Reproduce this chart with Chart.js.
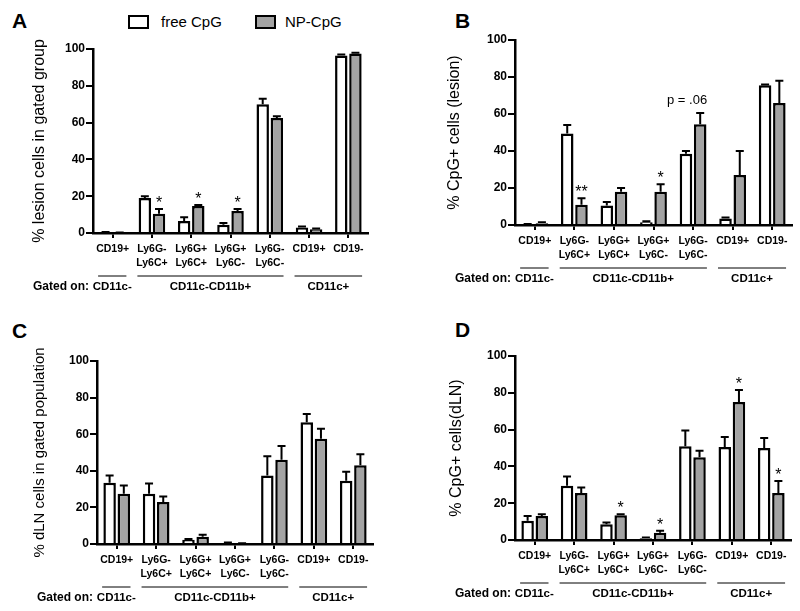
<!DOCTYPE html>
<html>
<head>
<meta charset="utf-8">
<script src="https://cdn.jsdelivr.net/npm/chart.js@4.4.1/dist/chart.umd.min.js"></script>
<style>
body { margin: 0; background: #fff; width: 800px; height: 611px; position: relative; overflow: hidden; font-family: "Liberation Sans", Arial, sans-serif; }
canvas { position: absolute; }
.letter { position: absolute; font: bold 21px/21px "Liberation Sans", Arial, sans-serif; color: #000; }
.legend { position: absolute; top: 14px; font: 15px/16px "Liberation Sans", Arial, sans-serif; color: #000; }
.legend .box { position: absolute; top: 1px; width: 17px; height: 10px; border: 2.5px solid #000; }
.legend span.txt { position: absolute; top: 0; white-space: nowrap; }
</style>
</head>
<body>
<div class="letter" style="left:12px;top:10px">A</div>
<div class="letter" style="left:455px;top:10px">B</div>
<div class="letter" style="left:12px;top:320px">C</div>
<div class="letter" style="left:455px;top:319px">D</div>

<div class="legend" style="left:128px"><div class="box" style="left:0;background:#fff"></div><span class="txt" style="left:33px">free CpG</span></div>
<div class="legend" style="left:255px"><div class="box" style="left:0;background:#a3a3a3"></div><span class="txt" style="left:30px">NP-CpG</span></div>

<canvas id="chartA" width="400" height="305" style="left:0;top:0"></canvas>
<canvas id="chartB" width="400" height="305" style="left:400px;top:0"></canvas>
<canvas id="chartC" width="400" height="306" style="left:0;top:305px"></canvas>
<canvas id="chartD" width="400" height="306" style="left:400px;top:305px"></canvas>

<script>
// categories and gating groups (same on all four panels)
const categories = ['CD19+', ['Ly6G-', 'Ly6C+'], ['Ly6G+', 'Ly6C+'], ['Ly6G+', 'Ly6C-'], ['Ly6G-', 'Ly6C-'], 'CD19+', 'CD19-'];
const gateLabels = ['CD11c-', 'CD11c-CD11b+', 'CD11c+'];
const gateFrom = [0, 1, 5];
const gateTo = [0, 4, 6];
const yTicks = [0, 20, 40, 60, 80, 100];
const seriesNames = ['free CpG', 'NP-CpG'];

// A - % lesion cells in gated group
const freeA = [0.3, 19, 6.5, 4.5, 70, 3, 96.5];
const freeErrA = [0.2, 1, 2, 1, 3, 0.5, 0.5];
const npA = [0.2, 10.5, 14.7, 12, 62.5, 2, 97.5];
const npErrA = [0.1, 2.5, 0.5, 1, 1, 0.5, 0.5];
const npMarksA = ['', '*', '*', '*', '', '', ''];

// B - % CpG+ cells (lesion)
const freeB = [0.3, 49.5, 10.5, 1.5, 38.5, 3.5, 75.5];
const freeErrB = [0.2, 4.5, 2, 0.5, 1.5, 0.5, 0.5];
const npB = [1, 11, 18, 18, 54.5, 27, 66];
const npErrB = [0.5, 3.5, 2, 4, 6, 13, 12];
const npMarksB = ['', '**', '', '*', 'p = .06', '', ''];

// C - % dLN cells in gated population
const freeC = [33.5, 27.5, 2.3, 0.6, 37.5, 66.5, 34.5];
const freeErrC = [4, 5.5, 0.5, 0.2, 10.5, 4.5, 5];
const npC = [27.5, 23, 4, 0.3, 46, 57.5, 43];
const npErrC = [4.5, 3, 1, 0.1, 7.5, 5.5, 6];
const npMarksC = ['', '', '', '', '', '', ''];

// D - % CpG+ cells(dLN)
const freeD = [10.5, 29.5, 8.5, 1, 51, 50.5, 50];
const freeErrD = [2.5, 5, 1, 0.3, 8.5, 5.5, 5.5];
const npD = [13, 25.5, 13.5, 4, 45, 75, 25.5];
const npErrD = [1, 3, 0.5, 1, 3.5, 6.5, 6.5];
const npMarksD = ['', '', '*', '*', '', '*', '*'];

const FONT = '"Liberation Sans", Arial, sans-serif';

// error bars, significance marks and the "Gated on" row
const extras = {
    id: 'extras',
    afterDatasetsDraw(chart) {
        const ctx = chart.ctx;
        const y = chart.scales.y;
        const x = chart.scales.x;
        ctx.save();
        ctx.strokeStyle = '#000';
        ctx.fillStyle = '#000';
        ctx.lineWidth = 2;
        chart.data.datasets.forEach((ds, di) => {
            const meta = chart.getDatasetMeta(di);
            meta.data.forEach((bar, i) => {
                const top = y.getPixelForValue(ds.data[i] + ds.errors[i]);
                const cap = bar.width * 0.32;
                ctx.beginPath();
                ctx.moveTo(bar.x, bar.y);
                ctx.lineTo(bar.x, top);
                ctx.moveTo(bar.x - cap, top);
                ctx.lineTo(bar.x + cap, top);
                ctx.stroke();
                const mark = ds.marks ? ds.marks[i] : '';
                if (mark) {
                    ctx.textAlign = 'center';
                    ctx.textBaseline = 'alphabetic';
                    if (mark.length > 2) {
                        ctx.font = '13px ' + FONT;
                        ctx.fillText(mark, x.getPixelForValue(i) - 6, top - 9);
                    } else {
                        ctx.font = '16px ' + FONT;
                        ctx.fillText(mark, bar.x, top - 1);
                    }
                }
            });
        });
        ctx.restore();
    },
    afterDraw(chart) {
        const ctx = chart.ctx;
        const x = chart.scales.x;
        const area = chart.chartArea;
        const catW = (area.right - area.left) / categories.length;
        const lineY = area.bottom + 43;
        const textY = area.bottom + 54;
        ctx.save();
        ctx.strokeStyle = '#000';
        ctx.fillStyle = '#000';
        ctx.lineWidth = 1;
        ctx.font = 'bold 12px ' + FONT;
        ctx.textBaseline = 'middle';
        ctx.textAlign = 'right';
        ctx.fillText('Gated on:', area.left - 4, textY);
        ctx.font = 'bold 11.5px ' + FONT;
        ctx.textAlign = 'center';
        gateLabels.forEach((g, k) => {
            const x0 = x.getPixelForValue(gateFrom[k]) - catW * 0.37;
            const x1 = x.getPixelForValue(gateTo[k]) + catW * 0.35;
            ctx.beginPath();
            ctx.moveTo(x0, lineY);
            ctx.lineTo(x1, lineY);
            ctx.stroke();
            ctx.fillText(g, (x0 + x1) / 2, textY);
        });
        ctx.restore();
    }
};

function makeChart(cfg) {
    const canvas = document.getElementById(cfg.id);
    const h = canvas.height;
    const w = canvas.width;
    return new Chart(canvas.getContext('2d'), {
        type: 'bar',
        data: {
            labels: categories,
            datasets: [
                { label: seriesNames[0], data: cfg.free, errors: cfg.freeErr, marks: null,
                  backgroundColor: '#ffffff', borderColor: '#000', borderWidth: 2.5 },
                { label: seriesNames[1], data: cfg.np, errors: cfg.npErr, marks: cfg.npMarks,
                  backgroundColor: '#a3a3a3', borderColor: '#000', borderWidth: 2.5 }
            ]
        },
        options: {
            responsive: false,
            animation: false,
            categoryPercentage: 0.72,
            barPercentage: 0.88,
            layout: { padding: { left: cfg.titleLeft, right: w - cfg.right, top: cfg.top, bottom: 0 } },
            plugins: { legend: { display: false }, tooltip: { enabled: false } },
            scales: {
                x: {
                    grid: { offset: false, drawOnChartArea: false, drawTicks: true, tickLength: 5, color: '#000', lineWidth: 2 },
                    border: { color: '#000', width: 2.5 },
                    ticks: { color: '#000', font: { family: FONT, size: 10.5, weight: 'bold', lineHeight: 1.25 },
                             padding: 5, maxRotation: 0, autoSkip: false },
                    afterFit: s => { s.height = h - cfg.bottom; }
                },
                y: {
                    min: 0, max: 100,
                    afterBuildTicks: s => { s.ticks = yTicks.map(v => ({ value: v })); },
                    grid: { drawOnChartArea: false, drawTicks: true, tickLength: 7, color: '#000', lineWidth: 2 },
                    border: { color: '#000', width: 2.5 },
                    ticks: { color: '#000', font: { family: FONT, size: 12, weight: 'bold' }, padding: 1 },
                    title: { display: true, text: cfg.yTitle, color: '#000',
                             font: { family: FONT, size: cfg.titleSize }, padding: { top: 4, bottom: 4 } },
                    afterFit: s => { s.width = cfg.left - cfg.titleLeft; }
                }
            }
        },
        plugins: [extras]
    });
}

makeChart({ id: 'chartA', free: freeA, freeErr: freeErrA, np: npA, npErr: npErrA, npMarks: npMarksA,
            yTitle: '% lesion cells in gated group', titleSize: 16,
            titleLeft: 26, left: 93, right: 368, top: 49, bottom: 233 });
makeChart({ id: 'chartB', free: freeB, freeErr: freeErrB, np: npB, npErr: npErrB, npMarks: npMarksB,
            yTitle: '% CpG+ cells (lesion)', titleSize: 16,
            titleLeft: 41, left: 115, right: 392, top: 40, bottom: 225 });
makeChart({ id: 'chartC', free: freeC, freeErr: freeErrC, np: npC, npErr: npErrC, npMarks: npMarksC,
            yTitle: '% dLN cells in gated population', titleSize: 15,
            titleLeft: 27, left: 97, right: 373, top: 56, bottom: 239 });
makeChart({ id: 'chartD', free: freeD, freeErr: freeErrD, np: npD, npErr: npErrD, npMarks: npMarksD,
            yTitle: '% CpG+ cells(dLN)', titleSize: 16,
            titleLeft: 43, left: 115, right: 391, top: 51, bottom: 235 });
</script>
</body>
</html>
